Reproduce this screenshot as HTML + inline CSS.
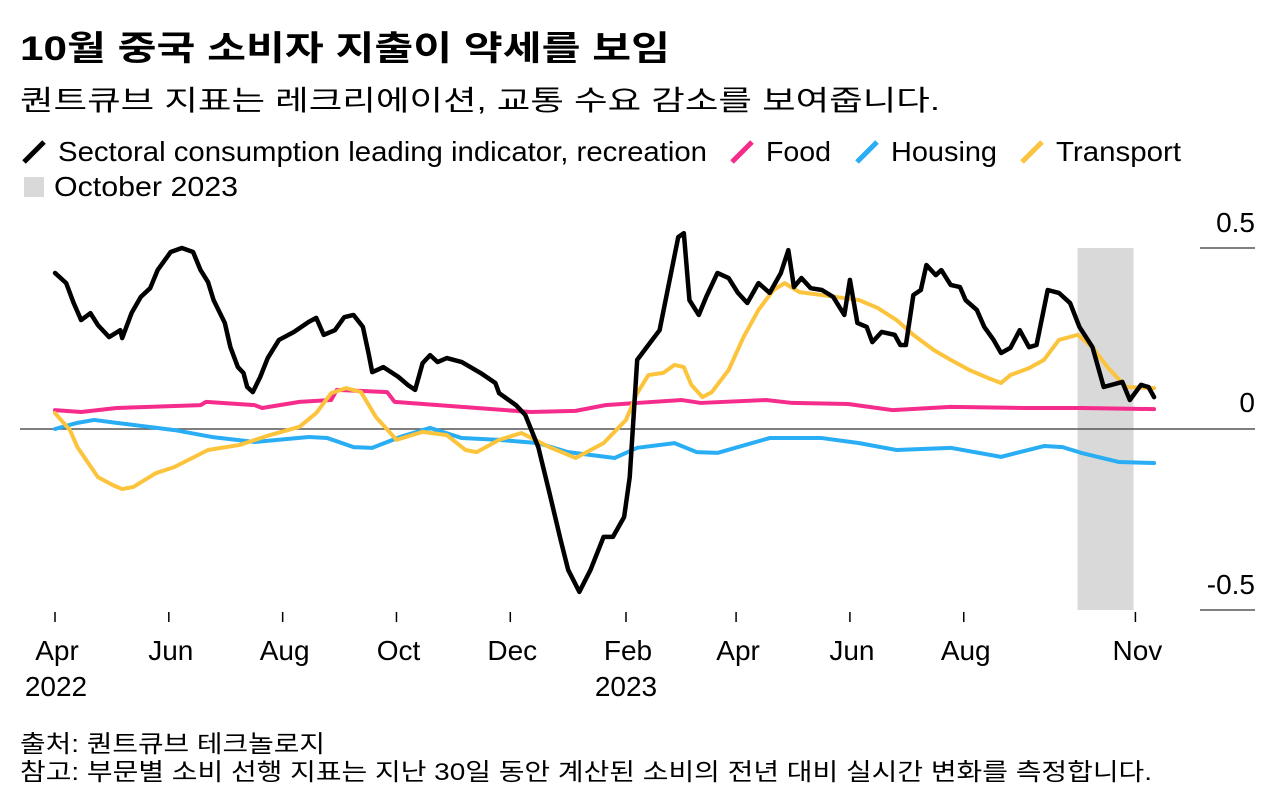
<!DOCTYPE html>
<html><head><meta charset="utf-8">
<style>
body{margin:0;background:#fff;width:1284px;height:799px;overflow:hidden;font-family:"Liberation Sans","Noto Sans CJK KR",sans-serif;}
svg text{font-family:"Liberation Sans","Noto Sans CJK KR",sans-serif;}
</style></head>
<body>
<svg id="chart" width="1284" height="799" xmlns="http://www.w3.org/2000/svg">
<text x="20" y="60" font-size="34" font-weight="bold" fill="#000" textLength="650" lengthAdjust="spacingAndGlyphs">10월 중국 소비자 지출이 약세를 보임</text>
<text x="20" y="110" font-size="28" fill="#000" textLength="920" lengthAdjust="spacingAndGlyphs">퀀트큐브 지표는 레크리에이션, 교통 수요 감소를 보여줍니다.</text>
<g font-size="28" fill="#000">
 <line x1="24" y1="162" x2="44" y2="142" stroke="#000" stroke-width="5"/><text x="58" y="161" textLength="649" lengthAdjust="spacingAndGlyphs">Sectoral consumption leading indicator, recreation</text>
 <line x1="732" y1="162" x2="752" y2="142" stroke="#f52c8b" stroke-width="5"/><text x="766" y="161" textLength="65" lengthAdjust="spacingAndGlyphs">Food</text>
 <line x1="857" y1="162" x2="877" y2="142" stroke="#29adf5" stroke-width="5"/><text x="891" y="161" textLength="106" lengthAdjust="spacingAndGlyphs">Housing</text>
 <line x1="1022" y1="162" x2="1042" y2="142" stroke="#fcc43c" stroke-width="5"/><text x="1056" y="161" textLength="125" lengthAdjust="spacingAndGlyphs">Transport</text>
 <rect x="24" y="177" width="20" height="20" fill="#d9d9d9"/><text x="54" y="196" textLength="184" lengthAdjust="spacingAndGlyphs">October 2023</text>
</g>
<g id="plot"></g>
<text x="20" y="752" font-size="24" textLength="305" lengthAdjust="spacingAndGlyphs">출처: 퀀트큐브 테크놀로지</text>
<text x="20" y="780" font-size="24" textLength="1132" lengthAdjust="spacingAndGlyphs">참고: 부문별 소비 선행 지표는 지난 30일 동안 계산된 소비의 전년 대비 실시간 변화를 측정합니다.</text>
</svg>
<script>
const recDays=[0,6,10,14,19,23,29,35,36,41,46,51,55,62,68,74,78,82,85,91,94,98,101,103,106,110,114,120,128,136,140,144,150,155,160,165,168,170,176,184,189,193,197,201,205,210,218,228,236,238,247,252,259,265,271,275,281,287,294,299,305,308,312,318,324,328,334,337,340,345,349,355,361,366,371,377,383,389,393,396,400,405,411,417,423,426,430,435,438,443,450,453,456,460,464,467,472,475,480,485,488,494,498,503,507,512,517,522,526,532,538,544,549,556,562,572,576,582,586,589];
const recVals=[.431,.403,.348,.301,.320,.287,.254,.273,.251,.320,.365,.389,.439,.489,.500,.489,.439,.406,.356,.293,.226,.171,.155,.116,.102,.144,.196,.246,.268,.296,.307,.260,.273,.309,.315,.282,.210,.157,.171,.144,.122,.108,.182,.204,.185,.196,.185,.155,.127,.099,.066,.039,-.050,-.177,-.307,-.389,-.450,-.389,-.298,-.298,-.243,-.133,.191,.232,.273,.376,.530,.541,.356,.315,.365,.431,.417,.376,.348,.403,.376,.431,.494,.392,.417,.389,.384,.365,.315,.412,.293,.282,.240,.268,.260,.232,.232,.370,.384,.453,.425,.439,.398,.392,.356,.329,.282,.246,.210,.224,.273,.226,.232,.384,.376,.348,.282,.226,.116,.130,.080,.122,.116,.088];
const foodDays=[0,14,33,78,81,107,111,131,148,151,178,182,218,255,279,295,312,336,346,381,395,425,449,480,520,550,589];
const foodVals=[.052,.047,.058,.066,.075,.066,.058,.075,.080,.108,.102,.075,.061,.047,.050,.066,.072,.080,.072,.080,.072,.069,.052,.061,.058,.058,.055];
const houseDays=[0,12,21,33,64,84,107,136,146,160,170,185,201,218,238,259,275,300,312,332,344,355,383,411,431,451,480,507,530,540,550,570,589];
const houseVals=[0,.017,.025,.017,-.003,-.022,-.036,-.022,-.025,-.050,-.052,-.022,.003,-.025,-.030,-.039,-.064,-.080,-.052,-.039,-.064,-.066,-.025,-.025,-.039,-.058,-.052,-.077,-.047,-.050,-.066,-.091,-.094];
const transDays=[0,8,12,23,31,36,42,54,64,82,99,115,131,140,148,156,164,172,183,197,210,220,226,238,250,265,279,294,306,312,318,326,332,337,341,347,352,361,369,377,385,391,399,411,431,441,451,460,471,480,490,500,507,512,522,530,538,548,556,564,574,589];
const transVals=[.044,-.003,-.050,-.133,-.155,-.166,-.160,-.122,-.105,-.058,-.044,-.017,.006,.044,.099,.113,.102,.033,-.030,-.008,-.017,-.058,-.064,-.030,-.011,-.050,-.080,-.039,.025,.099,.149,.155,.177,.171,.122,.088,.102,.163,.254,.329,.384,.403,.378,.370,.356,.334,.301,.260,.218,.191,.163,.141,.127,.149,.168,.191,.246,.260,.226,.171,.116,.113];
const tickDays=[0,61,122,183,244,306,365,426,487,579];
const tickLabels=["Apr","Jun","Aug","Oct","Dec","Feb","Apr","Jun","Aug","Nov"];
const yTicks=[0.5,0,-0.5];
const yLabels=["0.5","0","-0.5"];
const shadeStart=548, shadeEnd=578;

const NS="http://www.w3.org/2000/svg";
const X=d=>55+d*1.866;
const Y=v=>429-v*362;
const g=document.getElementById('plot');
function mk(t,a){const e=document.createElementNS(NS,t);for(const k in a)e.setAttribute(k,a[k]);g.appendChild(e);return e;}

const sh=mk('rect',{x:X(shadeStart),y:Y(0.5),width:X(shadeEnd)-X(shadeStart),height:Y(-0.5)-Y(0.5),fill:'#d9d9d9'});



yTicks.forEach((v,i)=>{
  if(v!==0){const l=mk('line',{x1:1200,x2:1255,y1:Y(v),y2:Y(v),stroke:'#000','stroke-width':1});
  
  }
  const t=mk('text',{x:1255,y:Y(v)-(v===0?17:16),'text-anchor':'end','font-size':28,fill:'#000'});
  t.textContent=yLabels[i];
  
  
});
const zl=mk('line',{x1:20,x2:1255,y1:Y(0),y2:Y(0),stroke:'#555','stroke-width':1.5});



tickDays.forEach((d,i)=>{
  const l=mk('line',{x1:X(d),x2:X(d),y1:612,y2:622,stroke:'#000','stroke-width':1.5});
  
  
  const t=mk('text',{x:X(d)+2,y:660,'text-anchor':'middle','font-size':28,fill:'#000'});
  t.textContent=tickLabels[i];
  
  
});
[["2022",X(0)+1],["2023",X(306)]].forEach(([s,x])=>{
  const t=mk('text',{x:x,y:696,'text-anchor':'middle','font-size':28,fill:'#000'});
  t.textContent=s;
  
  
});

function line(days,vals,color,w,name){
  const p=mk('polyline',{points:days.map((d,i)=>X(d)+','+Y(vals[i])).join(' '),fill:'none',stroke:color,'stroke-width':w,'stroke-linejoin':'round','stroke-linecap':'round'});
  
  
}
line(foodDays,foodVals,'#f52c8b',4,'food-line');
line(houseDays,houseVals,'#29adf5',4,'housing-line');
line(transDays,transVals,'#fcc43c',4,'transport-line');
line(recDays,recVals,'#000',4.5,'recreation-line');
</script>
</body></html>
